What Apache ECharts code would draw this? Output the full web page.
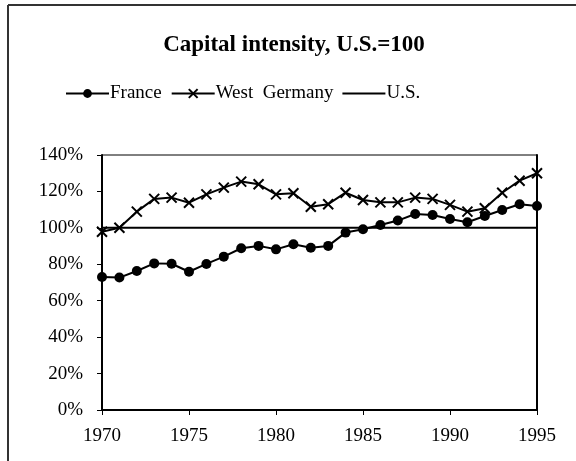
<!DOCTYPE html>
<html>
<head>
<meta charset="utf-8">
<script src="https://cdn.jsdelivr.net/npm/echarts@6/dist/echarts.min.js"></script>
<style>
  html, body { margin: 0; padding: 0; background: #fff; }
  #chart { width: 576px; height: 461px; }
</style>
</head>
<body>
<div id="chart"></div>
<script>
const years = [1970, 1971, 1972, 1973, 1974, 1975, 1976, 1977, 1978, 1979, 1980, 1981, 1982,
  1983, 1984, 1985, 1986, 1987, 1988, 1989, 1990, 1991, 1992, 1993, 1994, 1995]
const france = [73, 72.7, 76.3, 80.5, 80.3, 75.9, 80.2, 84.2, 88.8, 90.1, 88.2, 91, 89.1,
  90.1, 97.4, 99.2, 101.6, 104, 107.6, 107.1, 104.9, 103.1, 106.5, 109.8, 113, 112]
const westGermany = [97.9, 100.1, 108.9, 115.9, 116.6, 113.8, 118.4, 122.1, 125.4, 123.9, 118.4, 119, 111.6,
  113, 119.3, 115.3, 114, 114, 116.6, 115.9, 112.6, 108.9, 110.8, 119.3, 125.9, 130]
const us = years.map(() => 100)

const font = 'Liberation Serif'
const pairs = (vals) => years.map((y, i) => [y, vals[i]])

const chart = echarts.init(document.getElementById('chart'))
chart.setOption({
  animation: false,
  textStyle: { fontFamily: font, color: '#000' },
  title: {
    text: 'Capital intensity, U.S.=100',
    left: 289,
    top: 29,
    textAlign: 'center',
    textStyle: { fontFamily: font, fontSize: 23, fontWeight: 'bold', color: '#000' }
  },
  legend: {
    left: 60,
    top: 79,
    itemWidth: 43,
    itemHeight: 11,
    itemGap: 9,
    textStyle: { fontFamily: font, fontSize: 19, color: '#000', padding: [0, 0, 0, -4] },
    data: ['France', 'West  Germany', { name: 'U.S.', icon: 'path://M0,0H43V2H0Z' }]
  },
  graphic: [
    { type: 'line', shape: { x1: 8, y1: 5, x2: 576, y2: 5 }, style: { stroke: '#333', lineWidth: 2 } },
    { type: 'line', shape: { x1: 8, y1: 5, x2: 8, y2: 461 }, style: { stroke: '#333', lineWidth: 2 } }
  ],
  grid: {
    left: 102, right: 39, top: 155, bottom: 51,
    show: true, borderColor: '#000', borderWidth: 1
  },
  xAxis: {
    type: 'value',
    min: 1970, max: 1995, interval: 5,
    splitLine: { show: false },
    axisLine: { lineStyle: { color: '#000', width: 2 } },
    axisTick: { show: true, length: 5, lineStyle: { color: '#000' } },
    axisLabel: { fontFamily: font, fontSize: 19, color: '#000', margin: 17, formatter: (v) => String(v) }
  },
  yAxis: [{
    type: 'value',
    min: 0, max: 140, interval: 20,
    splitLine: { show: false },
    axisLine: { show: true, lineStyle: { color: '#000', width: 2 } },
    axisTick: { show: true, length: 5, lineStyle: { color: '#000' } },
    axisLabel: { fontFamily: font, fontSize: 19, color: '#000', margin: 19, formatter: '{value}%' }
  }, {
    type: 'value', position: 'right',
    min: 0, max: 140, interval: 20,
    splitLine: { show: false },
    axisLine: { show: true, lineStyle: { color: '#000', width: 2 } },
    axisTick: { show: false },
    axisLabel: { show: false }
  }],
  series: [
    {
      name: 'France', type: 'line', data: pairs(france),
      symbol: 'circle', symbolSize: 10,
      lineStyle: { color: '#000', width: 2 },
      itemStyle: { color: '#000' }
    },
    {
      name: 'West  Germany', type: 'line', data: pairs(westGermany),
      symbol: 'path://M0,0L10,10M10,0L0,10', symbolSize: 10,
      lineStyle: { color: '#000', width: 2 },
      itemStyle: { color: '#000', borderColor: '#000', borderWidth: 2 }
    },
    {
      name: 'U.S.', type: 'line', data: pairs(us),
      showSymbol: false, symbol: 'none',
      lineStyle: { color: '#000', width: 2 },
      itemStyle: { color: '#000' }
    }
  ]
})
</script>
</body>
</html>
